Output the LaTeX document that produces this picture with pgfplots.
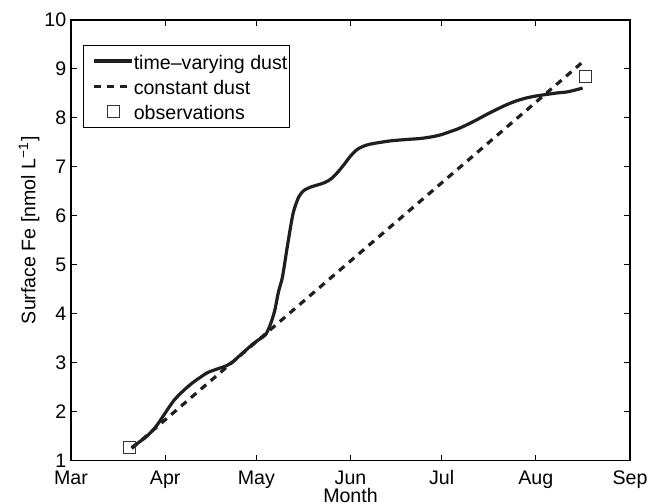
\documentclass[border=0pt]{standalone}
\usepackage{fontspec}
\setmainfont{Liberation Sans}
\usepackage{pgfplots}
\pgfplotsset{compat=1.18}
\definecolor{ink}{gray}{0.12}
\pgfplotsset{
  linelegend/.style={legend image code/.code={\path[draw=none,fill=none] (0bp,-0.05bp) rectangle (0.05bp,0.05bp); \draw[##1] (4.5bp,0bp) -- (23.5bp,0bp);}},
  marklegend/.style={legend image code/.code={\path[draw=none,fill=none] (0bp,-0.05bp) rectangle (23.5bp,0.05bp); \draw[##1] plot coordinates {(14bp,0bp)};}},
}
\newcommand{\fs}{\fontsize{9.8bp}{11.5bp}\selectfont}
\begin{document}
\fs
\begin{tikzpicture}
\begin{axis}[
  scale only axis, width=279.5bp, height=220.35bp,
  xmin=0, xmax=184, ymin=1, ymax=10,
  xtick={0,31,61,92,122,153,184},
  xticklabels={Mar,Apr,May,Jun,Jul,Aug,Sep},
  ytick={1,2,3,4,5,6,7,8,9,10},
  tick align=inside,
  major tick length=3bp,
  every tick/.style={black, line width=0.5bp},
  axis line style={black, line width=0.6bp},
  /pgf/number format/assume math mode=true,
  tick label style={font=\fs},
  xticklabel style={anchor=base, inner sep=0pt, yshift=-11.8bp},
  yticklabel style={anchor=east, inner sep=0pt, xshift=-2.2bp},
  xlabel={Month},
  ylabel={Surface Fe [nmol L\textsuperscript{−1}]},
  label style={font=\fs},
  xlabel style={at={(axis description cs:0.5,-0.0949)}, anchor=base, inner sep=0pt},
  ylabel style={at={(axis description cs:-0.0751,0.523)}, anchor=center, inner sep=0pt},
  legend style={at={(axis description cs:0.0209,0.9433)}, anchor=north west,
    draw=black, line width=0.5bp, inner xsep=1bp, inner ysep=1bp,
    font=\fs, row sep=-0.9bp,
    nodes={inner sep=0pt, text height=10.8bp, text depth=2.8bp},
    /tikz/every even column/.append style={column sep=2.5bp}},
  legend cell align=left,
]
\addplot[ink, line width=1.6bp, smooth, tension=0.45, linelegend]
  table {
x y
20 1.27
22 1.36
25 1.50
28 1.70
31.5 2.02
34 2.24
37 2.43
40 2.59
42.5 2.70
45 2.80
48 2.87
51.2 2.94
53.5 3.03
55.6 3.15
58 3.28
60 3.39
62 3.48
64 3.57
65.5 3.76
67 4.05
68.3 4.45
69.6 4.75
71.2 5.37
73.1 6.05
75 6.39
76.7 6.52
79 6.59
81.1 6.63
83.5 6.68
85.5 6.75
87.5 6.87
89.9 7.05
92 7.22
94.3 7.36
97 7.44
99.8 7.48
105 7.53
110.5 7.56
115 7.58
119.3 7.62
122 7.66
124.8 7.72
127.5 7.78
130.3 7.86
133.5 7.96
136.8 8.07
140 8.17
143.4 8.27
146.7 8.35
150 8.41
153.3 8.45
156.6 8.48
160 8.51
163.2 8.53
166 8.57
168.4 8.61
};
\addlegendentry{time--varying dust}
\addplot[ink, line width=1.6bp, dash pattern=on 3.5bp off 3bp, linelegend]
  coordinates {(20,1.25) (168.4,9.14)};
\addlegendentry{constant dust}
\addplot[only marks, mark=square, mark size=3bp,
  mark options={line width=0.5bp, draw=black!80, fill=white}, marklegend]
  coordinates {(19.3,1.27) (169.3,8.84)};
\addlegendentry{observations}
\coordinate (sw) at (rel axis cs:0,0);
\coordinate (ne) at (rel axis cs:1,1);
\end{axis}
\pgfresetboundingbox
\path ([shift={(-35.5bp,-21.65bp)}]sw) rectangle ([shift={(9.5bp,10bp)}]ne);
\end{tikzpicture}
\end{document}
